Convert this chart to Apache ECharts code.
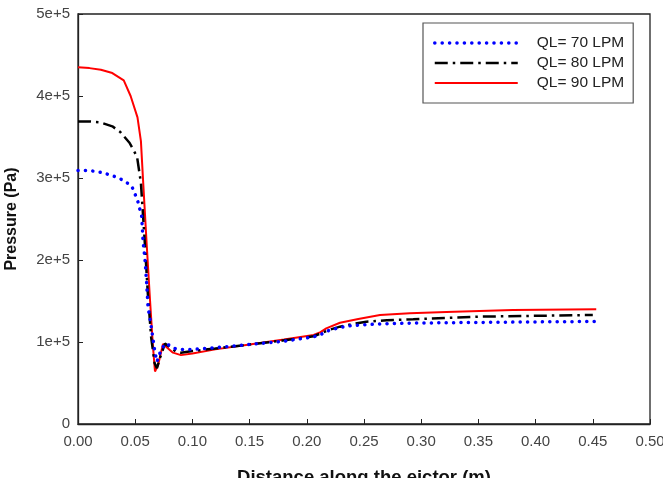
<!DOCTYPE html>
<html>
<head>
    <meta charset="utf-8">
    <script src="https://cdn.jsdelivr.net/npm/echarts@6/dist/echarts.min.js"></script>
</head>
<body style="margin:0">
<div id="main" style="width: 663px;height:478px;"></div>

<script>
    // distance along the ejector (m) and pressure (Pa) for each flow rate
    var x70 = [0, 0.01, 0.02, 0.03, 0.037, 0.042, 0.047, 0.052, 0.0557, 0.0568, 0.0586, 0.060, 0.0612, 0.0644, 0.0673, 0.069,
        0.072, 0.076, 0.080, 0.085, 0.09, 0.10, 0.12, 0.15, 0.18, 0.205, 0.212, 0.22, 0.235, 0.25, 0.264, 0.29, 0.322, 0.36, 0.40, 0.452];
    var p70 = [309e3, 309e3, 307e3, 303e3, 299e3, 295e3, 290e3, 273e3, 253e3, 224e3, 200e3, 172e3, 143e3, 115e3, 87e3, 76e3,
        88e3, 98e3, 96e3, 92e3, 91e3, 91e3, 93e3, 97e3, 101e3, 106e3, 109e3, 114.6e3, 119.5e3, 121e3, 122e3, 123e3, 123.5e3, 124e3, 124.5e3, 125e3];

    var x80 = [0, 0.01, 0.019, 0.03, 0.037, 0.045, 0.0516, 0.055, 0.058, 0.061, 0.064, 0.067, 0.069, 0.072, 0.076, 0.08,
        0.086, 0.09, 0.10, 0.12, 0.15, 0.18, 0.206, 0.213, 0.22, 0.229, 0.24, 0.252, 0.27, 0.293, 0.351, 0.45];
    var p80 = [369e3, 369e3, 368e3, 363e3, 356e3, 343e3, 326e3, 294e3, 230e3, 160e3, 105e3, 74e3, 68e3, 82e3, 98e3, 94e3,
        88e3, 87e3, 89e3, 92e3, 97e3, 102e3, 107e3, 111e3, 115e3, 118.7e3, 122e3, 124.8e3, 126.5e3, 127.7e3, 130.9e3, 133e3];

    var x90 = [0, 0.01, 0.02, 0.03, 0.04, 0.046, 0.052, 0.055, 0.057, 0.060, 0.063, 0.0655, 0.0673, 0.070, 0.0743, 0.078,
        0.083, 0.09, 0.10, 0.12, 0.15, 0.18, 0.206, 0.212, 0.217, 0.229, 0.245, 0.264, 0.29, 0.322, 0.38, 0.453];
    var p90 = [435e3, 434e3, 432e3, 428e3, 419e3, 400e3, 374e3, 345e3, 294e3, 220e3, 150e3, 95e3, 64e3, 72e3, 97.6e3, 93e3,
        87e3, 84e3, 86e3, 91e3, 97e3, 103e3, 108.5e3, 112e3, 116.7e3, 123.5e3, 128e3, 133e3, 135e3, 136.5e3, 139e3, 140e3];

    var yTickLabels = ['0', '1e+5', '2e+5', '3e+5', '4e+5', '5e+5'];

    function pairs(xs, ys) {
        var out = [];
        for (var i = 0; i < xs.length; i++) {
            out.push([xs[i], ys[i]]);
        }
        return out;
    }

    var dotted = {color: '#0000ff', width: 3.5, type: [0.1, 7.3], cap: 'round'};
    var dashDot = {color: '#000', width: 2.5, type: [13, 5, 2.5, 5]};
    var solid = {color: '#ff0000', width: 2};

    var font = 'Liberation Sans';
    var myChart = echarts.init(document.getElementById('main'));

    var option = {
        animation: false,
        textStyle: {fontFamily: font},
        grid: {
            left: 78, right: 13, top: 14, bottom: 54,
            outerBoundsMode: 'none',
            containLabel: false,
            show: true, borderColor: '#222', borderWidth: 1.3
        },
        legend: {
            left: 423, top: 23,
            orient: 'vertical',
            padding: [12, 9, 12, 10],
            itemGap: 4,
            itemWidth: 83,
            itemHeight: 14,
            borderColor: '#555',
            borderWidth: 1.2,
            backgroundColor: '#fff',
            itemStyle: {opacity: 0},
            textStyle: {fontSize: 15.5, color: '#222', fontFamily: font, padding: [0, 0, 0, 14]},
            data: [
                {name: 'QL= 70 LPM', lineStyle: dotted},
                {name: 'QL= 80 LPM', lineStyle: dashDot},
                {name: 'QL= 90 LPM', lineStyle: solid}
            ]
        },
        xAxis: {
            type: 'value',
            min: 0, max: 0.5, interval: 0.05,
            name: 'Distance along the ejctor (m)',
            nameLocation: 'middle',
            nameGap: 44,
            nameTextStyle: {fontSize: 18.5, fontWeight: 'bold', color: '#111', fontFamily: font},
            axisLine: {lineStyle: {color: '#222', width: 1.3}},
            axisTick: {inside: true, length: 5, lineStyle: {color: '#222'}},
            axisLabel: {
                color: '#444', fontSize: 15, margin: 10, fontFamily: font,
                formatter: function (v) { return v.toFixed(2); }
            },
            splitLine: {show: false}
        },
        yAxis: {
            type: 'value',
            min: 0, max: 5e5, interval: 1e5,
            name: 'Pressure (Pa)',
            nameLocation: 'middle',
            nameGap: 58,
            nameTextStyle: {fontSize: 16, fontWeight: 'bold', color: '#111', fontFamily: font},
            axisLine: {lineStyle: {color: '#222', width: 1.3}},
            axisTick: {inside: true, length: 5, lineStyle: {color: '#222'}},
            axisLabel: {
                color: '#444', fontSize: 15, margin: 8, fontFamily: font,
                formatter: function (v) { return yTickLabels[Math.round(v / 1e5)]; }
            },
            splitLine: {show: false}
        },
        series: [
            {
                name: 'QL= 70 LPM',
                type: 'line',
                symbol: 'none',
                data: pairs(x70, p70),
                lineStyle: dotted,
                itemStyle: {color: '#0000ff'},
                z: 3
            },
            {
                name: 'QL= 80 LPM',
                type: 'line',
                symbol: 'none',
                data: pairs(x80, p80),
                lineStyle: dashDot,
                itemStyle: {color: '#000'},
                z: 2
            },
            {
                name: 'QL= 90 LPM',
                type: 'line',
                symbol: 'none',
                data: pairs(x90, p90),
                lineStyle: solid,
                itemStyle: {color: '#ff0000'},
                z: 1
            }
        ]
    };
    myChart.setOption(option);
</script>
</body>
</html>
